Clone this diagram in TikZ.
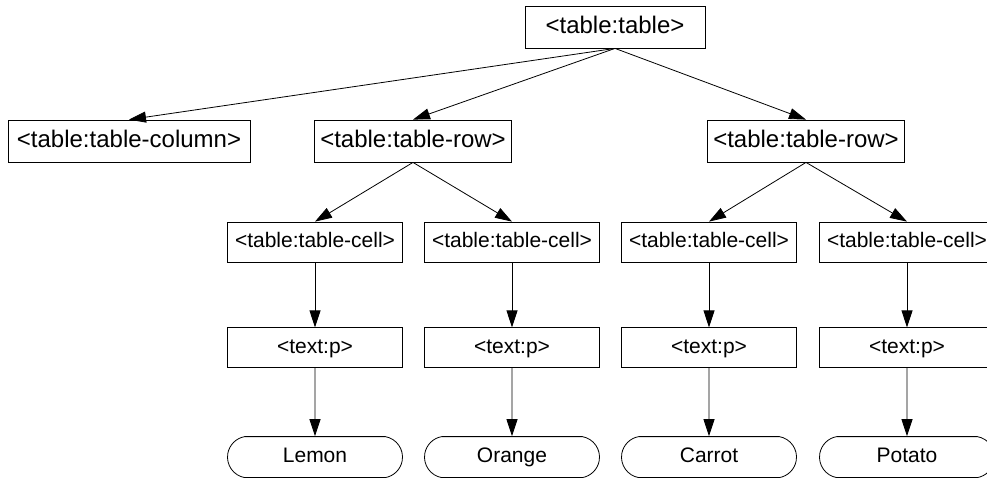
\documentclass[tikz,border=0pt]{standalone}
\usepackage{fontspec}
\setmainfont{Liberation Sans}
\usetikzlibrary{positioning, arrows.meta, shapes.misc}
\tikzset{
>={Triangle[length=17pt,width=11pt]}, % big filled heads as in the sketch
tag/.style={draw, line width=0.8pt, minimum height=42pt, inner sep=0pt, text height=17pt, text depth=5pt, font=\fontsize{24}{28}\selectfont}, % every element box
cell/.style={tag, minimum width=175pt, minimum height=40pt, text height=15pt, text depth=4pt, font=\fontsize{21}{25}\selectfont}, % the narrow boxes of the lower levels
leaf/.style={cell, rounded rectangle, rounded rectangle arc length=160, minimum height=41pt}, % text contents
link/.style={->, line width=0.8pt},
}
\begin{document}
\begin{tikzpicture}
    \useasboundingbox (0,0) rectangle (987pt,-477pt);

    \node[tag, minimum width=180pt] (table) at (615pt,-27pt) {<table:table>};

    \node[tag, minimum width=242pt] (column) at (129pt,-141pt) {<table:table-column>};
    \node[tag, minimum width=197pt] (rowA) at (413pt,-141pt) {<table:table-row>};
    \node[tag, minimum width=197pt] (rowB) at (806pt,-141pt) {<table:table-row>};

    \node[cell] (cellA) at (315pt,-242pt) {<table:table-cell>};
    \node[cell] (cellB) at (512pt,-242pt) {<table:table-cell>};
    \node[cell] (cellC) at (709pt,-242pt) {<table:table-cell>};
    \node[cell] (cellD) at (907pt,-242pt) {<table:table-cell>};

    \node[cell, below=65pt of cellA] (pA) {<text:p>};
    \node[cell, below=65pt of cellB] (pB) {<text:p>};
    \node[cell, below=65pt of cellC] (pC) {<text:p>};
    \node[cell, below=65pt of cellD] (pD) {<text:p>};

    \node[leaf, below=68pt of pA] (lemon) {Lemon};
    \node[leaf, below=68pt of pB] (orange) {Orange};
    \node[leaf, below=68pt of pC] (carrot) {Carrot};
    \node[leaf, below=68pt of pD] (potato) {Potato};

    \draw[link] (table.south) -- (column.north);
    \draw[link] (table.south) -- (rowA.north);
    \draw[link] (table.south) -- (rowB.north);

    \draw[link] (rowA.south) -- (cellA.north);
    \draw[link] (rowA.south) -- (cellB.north);
    \draw[link] (rowB.south) -- (cellC.north);
    \draw[link] (rowB.south) -- (cellD.north);

    \draw[link] (cellA) -- (pA);
    \draw[link] (cellB) -- (pB);
    \draw[link] (cellC) -- (pC);
    \draw[link] (cellD) -- (pD);

    \draw[link] (pA) -- (lemon);
    \draw[link] (pB) -- (orange);
    \draw[link] (pC) -- (carrot);
    \draw[link] (pD) -- (potato);
\end{tikzpicture}
\end{document}
